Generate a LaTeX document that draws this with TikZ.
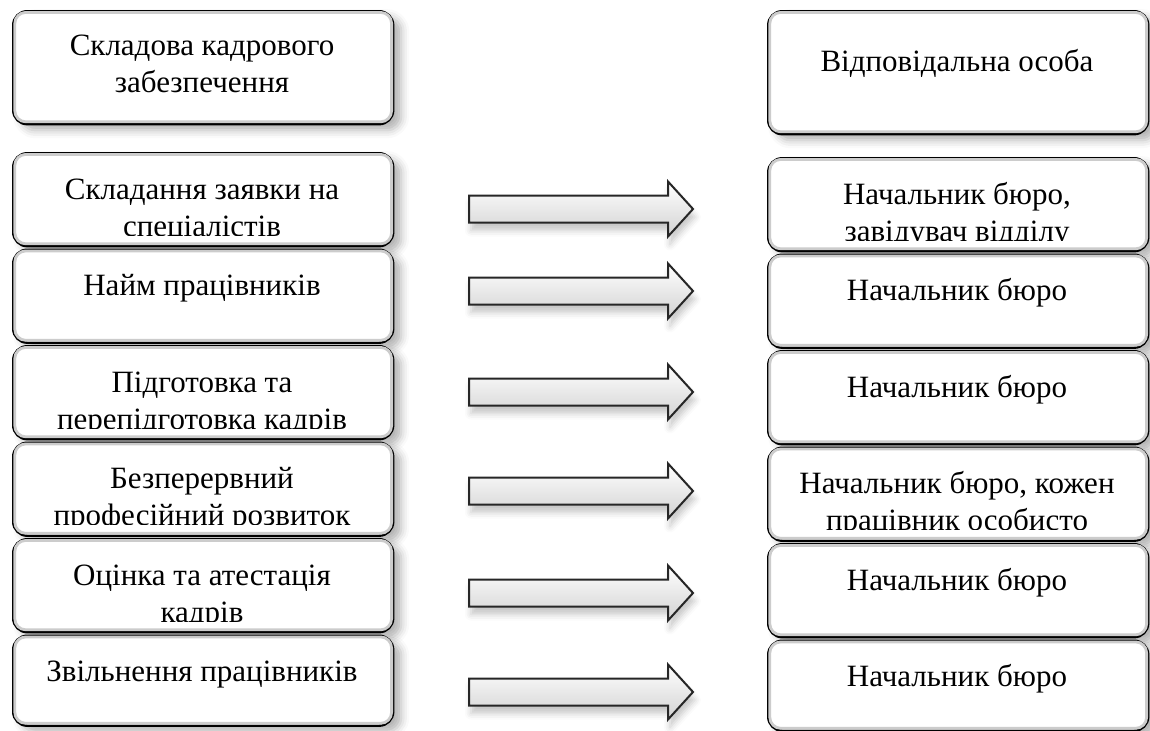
\documentclass[tikz,border=0pt]{standalone}
\usepackage{fontspec}
\setmainfont{Liberation Serif}
\usetikzlibrary{shadows.blur}

\tikzset{
  blok/.style={draw=black, line width=1.2pt, rounded corners=7pt, fill=white,
    minimum width=190pt, inner sep=0pt, anchor=north west,
    blur shadow={shadow xshift=4pt, shadow yshift=-3pt, shadow blur radius=4pt, shadow opacity=30}},
  faska/.style={draw=gray!40, line width=1.4pt, rounded corners=5.5pt},
  napys/.style={font=\fontsize{15.5}{18.5}\selectfont, align=center, anchor=base, inner sep=0pt},
  strilka/.style={draw=black!85, line width=1pt, line join=miter,
    top color=white, middle color=white, bottom color=gray!35,
    blur shadow={shadow xshift=1pt, shadow yshift=-4pt, shadow blur radius=3pt, shadow opacity=22}}
}

\begin{document}
\begin{tikzpicture}[x=0.5pt, y=-0.5pt]
  \useasboundingbox (0,0) rectangle (1150,730);

  % headers (base anchor = baseline of the last line)
  \node[blok, minimum height=56.5pt] (lh) at (12,10) {};
  \draw[faska] ([shift={(1.4pt,-1.2pt)}]lh.north west) rectangle ([shift={(-1.4pt,1.8pt)}]lh.south east);
  \node[napys] (lht) at (202,92) {Складова кадрового\\забезпечення};

  \node[blok, minimum height=61.5pt] (rh) at (767,10) {};
  \draw[faska] ([shift={(1.4pt,-1.2pt)}]rh.north west) rectangle ([shift={(-1.4pt,1.8pt)}]rh.south east);
  \node[napys] (rht) at (957,71) {Відповідальна особа};

  % rows: left box, arrow, right box
  \foreach \n/\lt/\rt/\ya/\h/\kl/\kr/\ltext/\rtext in {
      1/152/157/209/93/2/2/{Складання заявки на\\спеціалістів}/{Начальник бюро,\\завідувач відділу},
      2/248.5/253.5/291/93/1/1/{Найм працівників}/{Начальник бюро},
      3/345/350/392/93/2/1/{Підготовка та\\перепідготовка кадрів}/{Начальник бюро},
      4/441.5/446.5/491/93/2/2/{Безперервний\\професійний розвиток}/{Начальник бюро, кожен\\працівник особисто},
      5/538/543/593/93/2/1/{Оцінка та атестація\\кадрів}/{Начальник бюро},
      6/634.5/639.5/692/90/1/1/{Звільнення працівників}/{Начальник бюро}} {
    % left
    \node[blok, minimum height=\h*0.5pt] (lb\n) at (12,\lt) {};
    \draw[faska] ([shift={(1.4pt,-1.2pt)}]lb\n.north west) rectangle ([shift={(-1.4pt,1.8pt)}]lb\n.south east);
    \begin{scope}
      \clip (12,\lt) rectangle (392,\lt+\h-10);
      \node[napys] (lt\n) at (202,\lt+47+37*\kl-37) {\ltext};
    \end{scope}
    % arrow
    \draw[strilka] (469,\ya-13.5) -- (668,\ya-13.5) -- (668,\ya-27.5) -- (693,\ya)
      -- (668,\ya+27.5) -- (668,\ya+13.5) -- (469,\ya+13.5) -- cycle;
    % right
    \node[blok, minimum height=\h*0.5pt] (rb\n) at (767,\rt) {};
    \draw[faska] ([shift={(1.4pt,-1.2pt)}]rb\n.north west) rectangle ([shift={(-1.4pt,1.8pt)}]rb\n.south east);
    \begin{scope}
      \clip (767,\rt) rectangle (1147,\rt+\h-10);
      \node[napys] (rt\n) at (957,\rt+47+37*\kr-37) {\rtext};
    \end{scope}
  }
\end{tikzpicture}
\end{document}
